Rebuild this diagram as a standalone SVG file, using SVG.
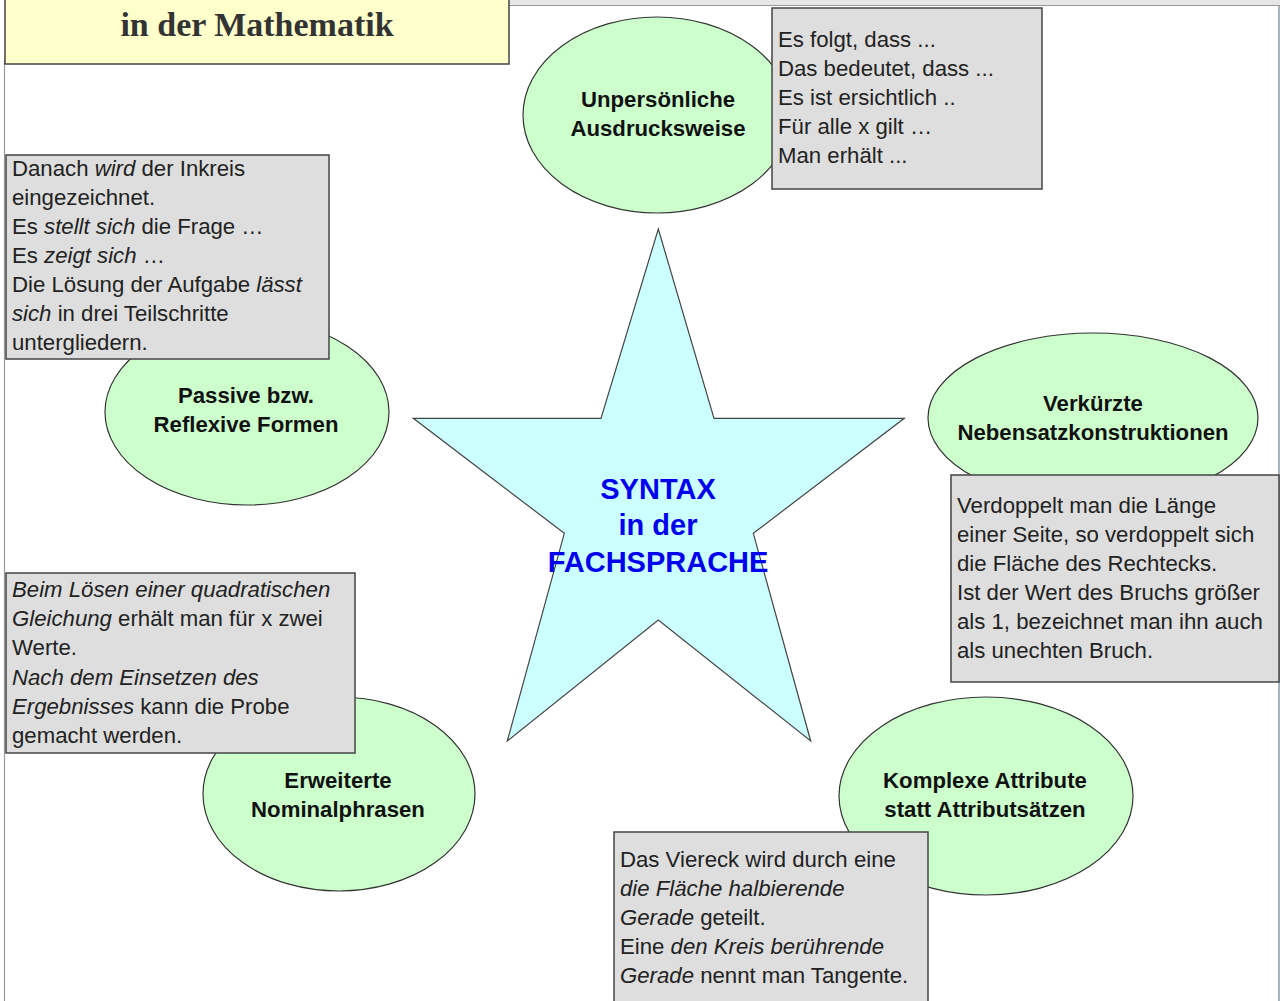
<svg xmlns="http://www.w3.org/2000/svg" width="1280" height="1001" viewBox="0 0 1280 1001">
<style>
.ell{fill:#ccffcc;stroke:#333;stroke-width:1.2}
.box{fill:#dedede;stroke:#444;stroke-width:1.5}
.lbl{font-family:"Liberation Sans",Arial,sans-serif;font-size:22.2px;font-weight:bold;fill:#111;text-anchor:middle}
.txt{font-family:"Liberation Sans",Arial,sans-serif;font-size:22.2px;fill:#222}
.it{font-style:italic}
.star{font-family:"Liberation Sans",Arial,sans-serif;font-size:29px;font-weight:bold;fill:#0000ee;text-anchor:middle}
</style>
<rect x="0" y="0" width="1280" height="1001" fill="#ffffff"/>
<rect x="509" y="0" width="771" height="5.5" fill="#e6e6e6"/>
<line x1="509" y1="5.5" x2="1280" y2="5.5" stroke="#999" stroke-width="1.2"/>
<line x1="4.5" y1="60" x2="4.5" y2="1001" stroke="#999" stroke-width="1.2"/>
<line x1="1279" y1="6" x2="1279" y2="1001" stroke="#8a9bab" stroke-width="1.5"/>

<g id="title">
<rect x="5" y="-10" width="504" height="74" fill="#ffffcc" stroke="#444" stroke-width="1.5"/>
<text x="257" y="36" font-family="'Liberation Serif','Times New Roman',serif" font-size="34" font-weight="bold" fill="#333" text-anchor="middle">in der Mathematik</text>
</g>

<g id="connectors"></g>

<g id="center-star">
<polygon points="658.3,229 714,418.3 904.3,418.3 753.3,533.3 810.7,741 658.3,620 507.3,741 564.3,533.3 413.3,418.3 601,418.3" fill="#ccffff" stroke="#444" stroke-width="1.2"/>
<text class="star" x="658" y="499">SYNTAX</text>
<text class="star" x="658" y="535">in der</text>
<text class="star" x="658" y="572">FACHSPRACHE</text>
</g>

<g id="node-unpersoenlich">
<ellipse class="ell" cx="657" cy="115" rx="134" ry="98"/>
<text class="lbl" x="658" y="107">Unpersönliche</text>
<text class="lbl" x="658" y="136">Ausdrucksweise</text>
<rect class="box" x="772" y="8" width="270" height="181"/>
<text class="txt" x="778" y="47">Es folgt, dass ...</text>
<text class="txt" x="778" y="76">Das bedeutet, dass ...</text>
<text class="txt" x="778" y="105">Es ist ersichtlich ..</text>
<text class="txt" x="778" y="134">Für alle x gilt …</text>
<text class="txt" x="778" y="163">Man erhält ...</text>
</g>

<g id="node-passive">
<ellipse class="ell" cx="247" cy="412" rx="142" ry="93"/>
<text class="lbl" x="246" y="403">Passive bzw.</text>
<text class="lbl" x="246" y="432">Reflexive Formen</text>
<rect class="box" x="6" y="155" width="323" height="204"/>
<text class="txt" x="12" y="176">Danach <tspan class="it">wird</tspan> der Inkreis</text>
<text class="txt" x="12" y="205">eingezeichnet.</text>
<text class="txt" x="12" y="234">Es <tspan class="it">stellt sich</tspan> die Frage …</text>
<text class="txt" x="12" y="263">Es <tspan class="it">zeigt sich</tspan> …</text>
<text class="txt" x="12" y="292">Die Lösung der Aufgabe <tspan class="it">lässt</tspan></text>
<text class="txt" x="12" y="321"><tspan class="it">sich</tspan> in drei Teilschritte</text>
<text class="txt" x="12" y="350">untergliedern.</text>
</g>

<g id="node-verkuerzt">
<ellipse class="ell" cx="1093" cy="418" rx="165" ry="85"/>
<text class="lbl" x="1093" y="411">Verkürzte</text>
<text class="lbl" x="1093" y="440">Nebensatzkonstruktionen</text>
<rect class="box" x="951" y="475" width="328" height="207"/>
<text class="txt" x="957" y="513">Verdoppelt man die Länge</text>
<text class="txt" x="957" y="542">einer Seite, so verdoppelt sich</text>
<text class="txt" x="957" y="571">die Fläche des Rechtecks.</text>
<text class="txt" x="957" y="600">Ist der Wert des Bruchs größer</text>
<text class="txt" x="957" y="629">als 1, bezeichnet man ihn auch</text>
<text class="txt" x="957" y="658">als unechten Bruch.</text>
</g>

<g id="node-erweitert">
<ellipse class="ell" cx="339" cy="794" rx="136" ry="97"/>
<text class="lbl" x="338" y="788">Erweiterte</text>
<text class="lbl" x="338" y="817">Nominalphrasen</text>
<rect class="box" x="6" y="573" width="349" height="180"/>
<text class="txt" x="12" y="597"><tspan class="it">Beim Lösen einer quadratischen</tspan></text>
<text class="txt" x="12" y="626"><tspan class="it">Gleichung</tspan> erhält man für x zwei</text>
<text class="txt" x="12" y="655">Werte.</text>
<text class="txt" x="12" y="685"><tspan class="it">Nach dem Einsetzen des</tspan></text>
<text class="txt" x="12" y="714"><tspan class="it">Ergebnisses</tspan> kann die Probe</text>
<text class="txt" x="12" y="743">gemacht werden.</text>
</g>

<g id="node-komplex">
<ellipse class="ell" cx="986" cy="796" rx="147" ry="99"/>
<text class="lbl" x="985" y="788">Komplexe Attribute</text>
<text class="lbl" x="985" y="817">statt Attributsätzen</text>
<rect class="box" x="614" y="832" width="314" height="180"/>
<text class="txt" x="620" y="867">Das Viereck wird durch eine</text>
<text class="txt" x="620" y="896"><tspan class="it">die Fläche halbierende</tspan></text>
<text class="txt" x="620" y="925"><tspan class="it">Gerade</tspan> geteilt.</text>
<text class="txt" x="620" y="954">Eine <tspan class="it">den Kreis berührende</tspan></text>
<text class="txt" x="620" y="983"><tspan class="it">Gerade</tspan> nennt man Tangente.</text>
</g>
</svg>
